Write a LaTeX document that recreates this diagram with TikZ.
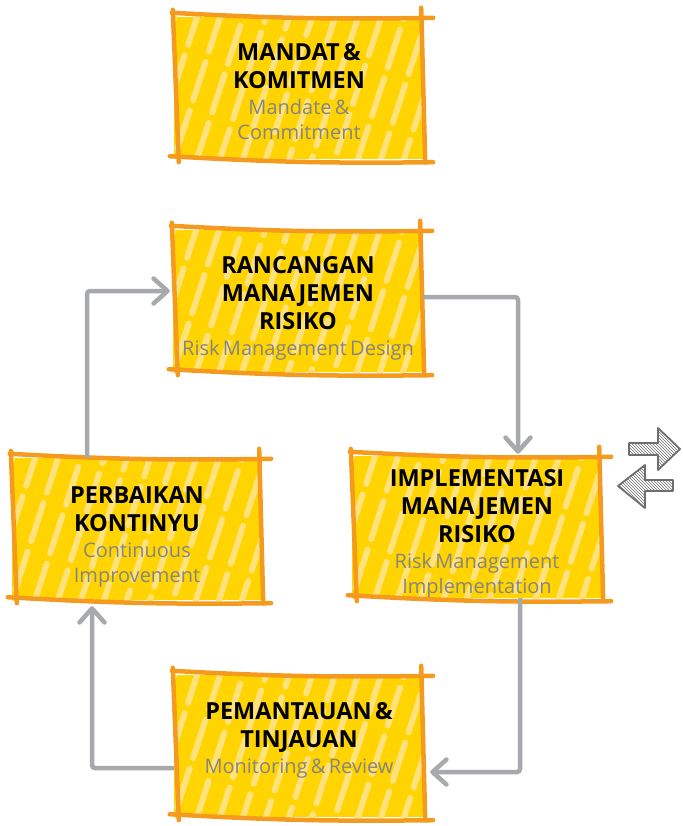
\documentclass[tikz,border=0pt]{standalone}
\usepackage{fontspec}
\setmainfont{Open Sans}
\usetikzlibrary{arrows.meta,patterns}

\definecolor{boxyellow}{HTML}{FFD400}
\definecolor{stripeyellow}{HTML}{FFE27C}
\definecolor{rimorange}{HTML}{F49A1E}
\definecolor{flowgrey}{HTML}{A7A9AC}
\definecolor{subgrey}{HTML}{858585}
\definecolor{icongrey}{HTML}{6E6E6E}

\newcommand{\boxtitle}[1]{{\fontsize{23.5}{28}\selectfont\bfseries #1\par}}
\newcommand{\boxsub}[1]{{\vspace{1pt}\fontsize{20}{25}\selectfont\color{subgrey}#1\par}}

\begin{document}
\begin{tikzpicture}[x=1pt, y=-1pt,
        box/.style={rectangle, fill=boxyellow, minimum width=250pt, minimum height=142pt,
            inner sep=0pt, text width=246pt, align=center,
            path picture={\foreach \k in {-4,...,12}
                \draw[stripe] ([xshift=\k*23pt]path picture bounding box.south west)
                    ++(252:{mod(7*\k+40,45)*1pt}) -- ++(72:210pt);}},
        lift/.style={execute at end node={\vspace*{#1}}},
        stripe/.style={draw=stripeyellow, line width=6pt, line cap=round, dash pattern=on 40pt off 11pt},
        rim/.style={draw=rimorange, line width=4.5pt, line cap=round},
        flow/.style={draw=flowgrey, line width=4.5pt, rounded corners=3pt,
            -{Straight Barb[length=14pt,width=25pt,line width=4.5pt,round]}},
        iconarrow/.style={draw=icongrey, line width=1.8pt, line join=round,
            pattern=north west lines, pattern color=icongrey}]

    \useasboundingbox (0,0) rectangle (682,826);

    % Boxes
    \node[box, lift=-8pt] (mandat) at (299,88) {\boxtitle{MANDAT \&\\KOMITMEN}\boxsub{Mandate \&\\Commitment}};
    \node[box, lift=-14pt] (rancang) at (298,301) {\boxtitle{RANCANGAN\\MANAJEMEN\\RISIKO}\boxsub{Risk Management Design}};
    \node[box, lift=-16pt] (perbaik) at (137,529) {\boxtitle{PERBAIKAN\\KONTINYU}\boxsub{Continuous\\Improvement}};
    \node[box, lift=-14pt] (implem) at (477,527) {\boxtitle{IMPLEMENTASI\\MANAJEMEN\\RISIKO}\boxsub{Risk Management\\Implementation}};
    \node[box, lift=12pt] (pantau) at (299,746) {\boxtitle{PEMANTAUAN \&\\TINJAUAN}\boxsub{Monitoring \& Review}};

    % Sketchy rims
    \foreach \b in {mandat,rancang,perbaik,implem,pantau}{
        \draw[rim] ([shift={(-2,-4)}]\b.north west) to[bend right=2] ([shift={(9,1)}]\b.north east);
        \draw[rim] ([shift={(-1,-7)}]\b.north west) -- ([shift={(5,3)}]\b.south west);
        \draw[rim] ([shift={(-3,-9)}]\b.north east) -- ([shift={(1,3)}]\b.south east);
        \draw[rim] ([shift={(-4,-3)}]\b.south west) to[bend right=2] ([shift={(9,3)}]\b.south east);
    }

    % Cycle
    \draw[flow] ([shift={(-50,0)}]perbaik.north) |- ([shift={(-3,-10)}]rancang.west);
    \draw[flow] ([shift={(0,-4)}]rancang.east) -| ([shift={(41,-2)}]implem.north);
    \draw[flow] ([shift={(43,0)}]implem.south) |- ([shift={(6,26)}]pantau.east);
    \draw[flow] ([shift={(0,22)}]pantau.west) -| ([shift={(-45,6)}]perbaik.south);

    % Exchange icon
    \path[iconarrow] (629,443) -- (658,443) -- (658,428) -- (680,449) -- (658,470) -- (658,455) -- (629,455) -- cycle;
    \path[iconarrow] (673,480) -- (645,480) -- (645,465) -- (618,486) -- (645,508) -- (645,491) -- (673,491) -- cycle;
\end{tikzpicture}
\end{document}
